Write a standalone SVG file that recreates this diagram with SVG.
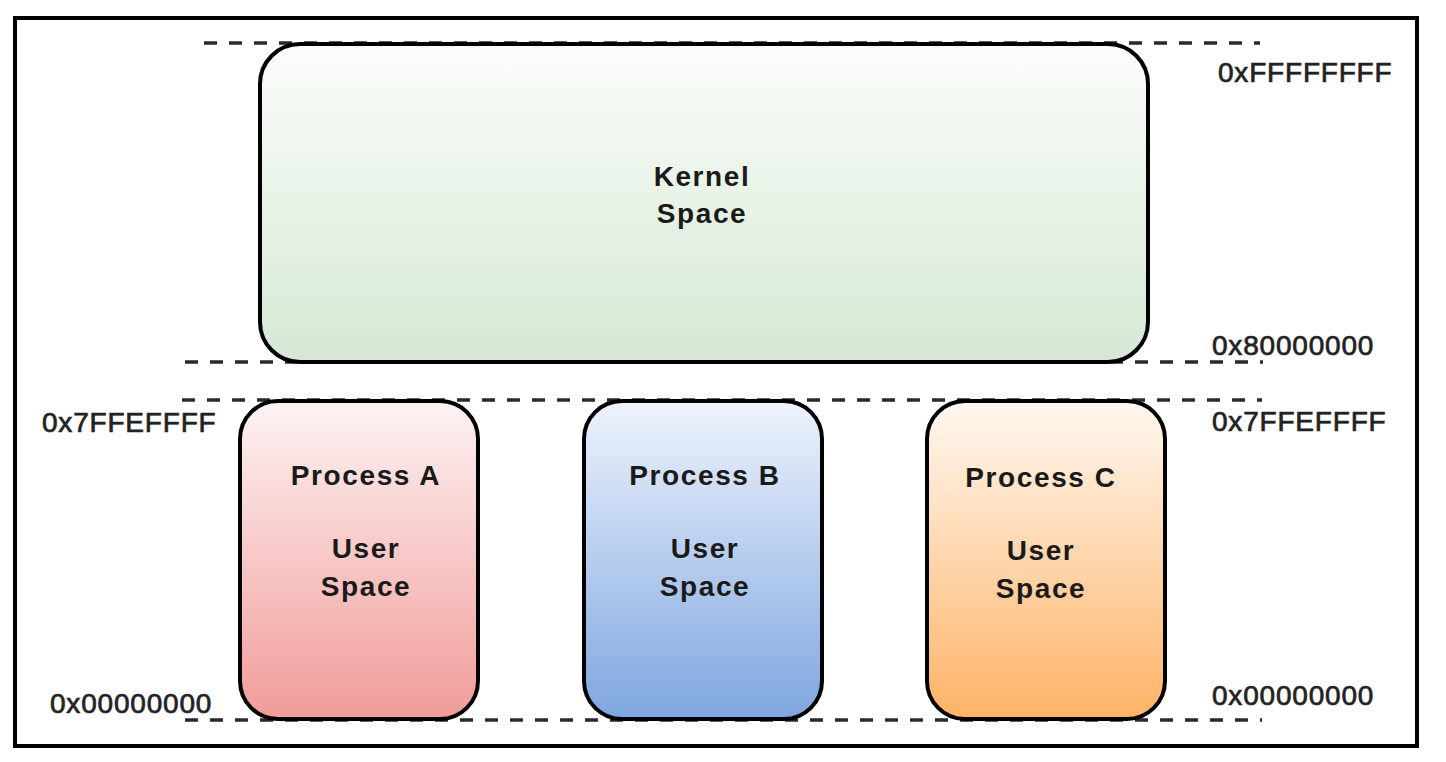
<svg xmlns="http://www.w3.org/2000/svg" width="1446" height="762" viewBox="0 0 1446 762">
<style>
.frame{fill:#ffffff;stroke:#000;stroke-width:4}
.box{stroke:#000;stroke-width:4}
.dash{stroke:#2a2a2a;stroke-width:3.5;stroke-dasharray:13 12;fill:none}
.lbl{font-family:"Liberation Sans",Arial,sans-serif;font-weight:bold;font-size:28px;fill:#1a1a1a;text-anchor:middle;letter-spacing:1.6px}
.addr{font-family:"Liberation Sans",Arial,sans-serif;font-size:28px;fill:#222;stroke:#222;stroke-width:0.7px;letter-spacing:0.8px}
</style>
<defs>
<linearGradient id="gK" x1="0" y1="0" x2="0" y2="1"><stop offset="0" stop-color="#fbfdfa"/><stop offset="1" stop-color="#d5e8d4"/></linearGradient>
<linearGradient id="gA" x1="0" y1="0" x2="0" y2="1"><stop offset="0" stop-color="#fdf3f3"/><stop offset="1" stop-color="#f19c99"/></linearGradient>
<linearGradient id="gB" x1="0" y1="0" x2="0" y2="1"><stop offset="0" stop-color="#eef3fc"/><stop offset="1" stop-color="#7ea6e0"/></linearGradient>
<linearGradient id="gC" x1="0" y1="0" x2="0" y2="1"><stop offset="0" stop-color="#fff8f1"/><stop offset="1" stop-color="#ffb366"/></linearGradient>
</defs>
<rect class="frame" x="15" y="18" width="1402" height="728"/>
<g id="connectors">
<line class="dash" x1="204" y1="43" x2="1260" y2="43"/>
<line class="dash" x1="185" y1="362" x2="1263" y2="362"/>
<line class="dash" x1="182" y1="400" x2="1262" y2="400"/>
<line class="dash" x1="185" y1="720" x2="1262" y2="720"/>
</g>
<g id="kernel">
<rect class="box" x="260" y="44" width="888" height="318" rx="40" fill="url(#gK)"/>
<text class="lbl" x="702" y="186">Kernel</text>
<text class="lbl" x="702" y="223">Space</text>
</g>
<g id="processA">
<rect class="box" x="240" y="401" width="238" height="318" rx="38" fill="url(#gA)"/>
<text class="lbl" x="366" y="485">Process A</text>
<text class="lbl" x="366" y="558">User</text>
<text class="lbl" x="366" y="596">Space</text>
</g>
<g id="processB">
<rect class="box" x="584" y="401" width="238" height="318" rx="38" fill="url(#gB)"/>
<text class="lbl" x="705" y="485">Process B</text>
<text class="lbl" x="705" y="558">User</text>
<text class="lbl" x="705" y="596">Space</text>
</g>
<g id="processC">
<rect class="box" x="927" y="401" width="238" height="318" rx="38" fill="url(#gC)"/>
<text class="lbl" x="1041" y="487">Process C</text>
<text class="lbl" x="1041" y="560">User</text>
<text class="lbl" x="1041" y="598">Space</text>
</g>
<g id="addresses">
<text class="addr" x="1218" y="82">0xFFFFFFFF</text>
<text class="addr" x="1212" y="355">0x80000000</text>
<text class="addr" x="1212" y="431">0x7FFEFFFF</text>
<text class="addr" x="1212" y="705">0x00000000</text>
<text class="addr" x="42" y="432">0x7FFEFFFF</text>
<text class="addr" x="50" y="713">0x00000000</text>
</g>
</svg>
